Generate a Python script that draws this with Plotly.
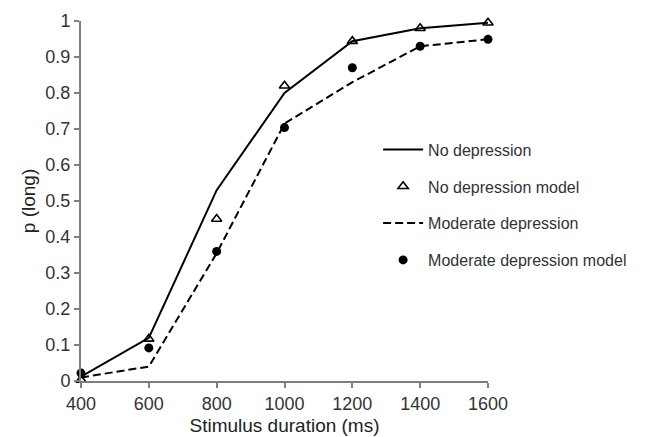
import plotly.graph_objects as go

durations = [400, 600, 800, 1000, 1200, 1400, 1600]
no_dep = [0.012, 0.12, 0.53, 0.80, 0.944, 0.98, 0.995]
no_dep_model = [0.003, 0.117, 0.45, 0.82, 0.944, 0.98, 0.995]
mod_dep = [0.01, 0.04, 0.355, 0.715, 0.83, 0.93, 0.949]
mod_dep_model = [0.022, 0.092, 0.36, 0.704, 0.87, 0.93, 0.949]

FONT = "Liberation Sans, Arial"

fig = go.Figure()
fig.add_trace(go.Scatter(x=durations, y=no_dep, mode="lines", name="No depression",
                         line=dict(color="black", width=2), legendgroup="a", cliponaxis=False))
fig.add_trace(go.Scatter(x=durations, y=no_dep_model, mode="markers", name="No depression model",
                         marker=dict(symbol="triangle-up-open", size=9, color="black",
                                     line=dict(width=1.6, color="black")), legendgroup="b", cliponaxis=False))
fig.add_trace(go.Scatter(x=durations, y=mod_dep, mode="lines", name="Moderate depression",
                         line=dict(color="black", width=2, dash="8px,4px"), legendgroup="c", cliponaxis=False))
fig.add_trace(go.Scatter(x=durations, y=mod_dep_model, mode="markers", name="Moderate depression model",
                         marker=dict(symbol="circle", size=9, color="black"), legendgroup="d", cliponaxis=False))

axis_common = dict(showgrid=False, zeroline=False, showline=True, linecolor="#7f7f7f", linewidth=2,
                   ticks="outside", ticklen=5, tickwidth=1.5, tickcolor="#7f7f7f", automargin=False,
                   tickfont=dict(family=FONT, size=18, color="#333333"))

fig.update_layout(
    width=652, height=437,
    margin=dict(l=81, r=164, t=21, b=56),
    paper_bgcolor="white", plot_bgcolor="white",
    showlegend=True,
    legend=dict(x=0.73, y=0.69, xanchor="left", yanchor="top", bgcolor="rgba(0,0,0,0)",
                font=dict(family=FONT, size=16, color="#333333"),
                tracegroupgap=13, itemwidth=40),
    xaxis=dict(range=[400, 1600], tickvals=durations, **axis_common,
               title=dict(text="Stimulus duration (ms)", standoff=6,
                          font=dict(family=FONT, size=19, color="#222222"))),
    yaxis=dict(range=[0, 1], tickvals=[i / 10 for i in range(11)],
               ticktext=["0", "0.1", "0.2", "0.3", "0.4", "0.5", "0.6", "0.7", "0.8", "0.9", "1"],
               **axis_common,
               title=dict(text="p (long)", standoff=5,
                          font=dict(family=FONT, size=19, color="#222222"))),
)

fig.write_html("out.html")
